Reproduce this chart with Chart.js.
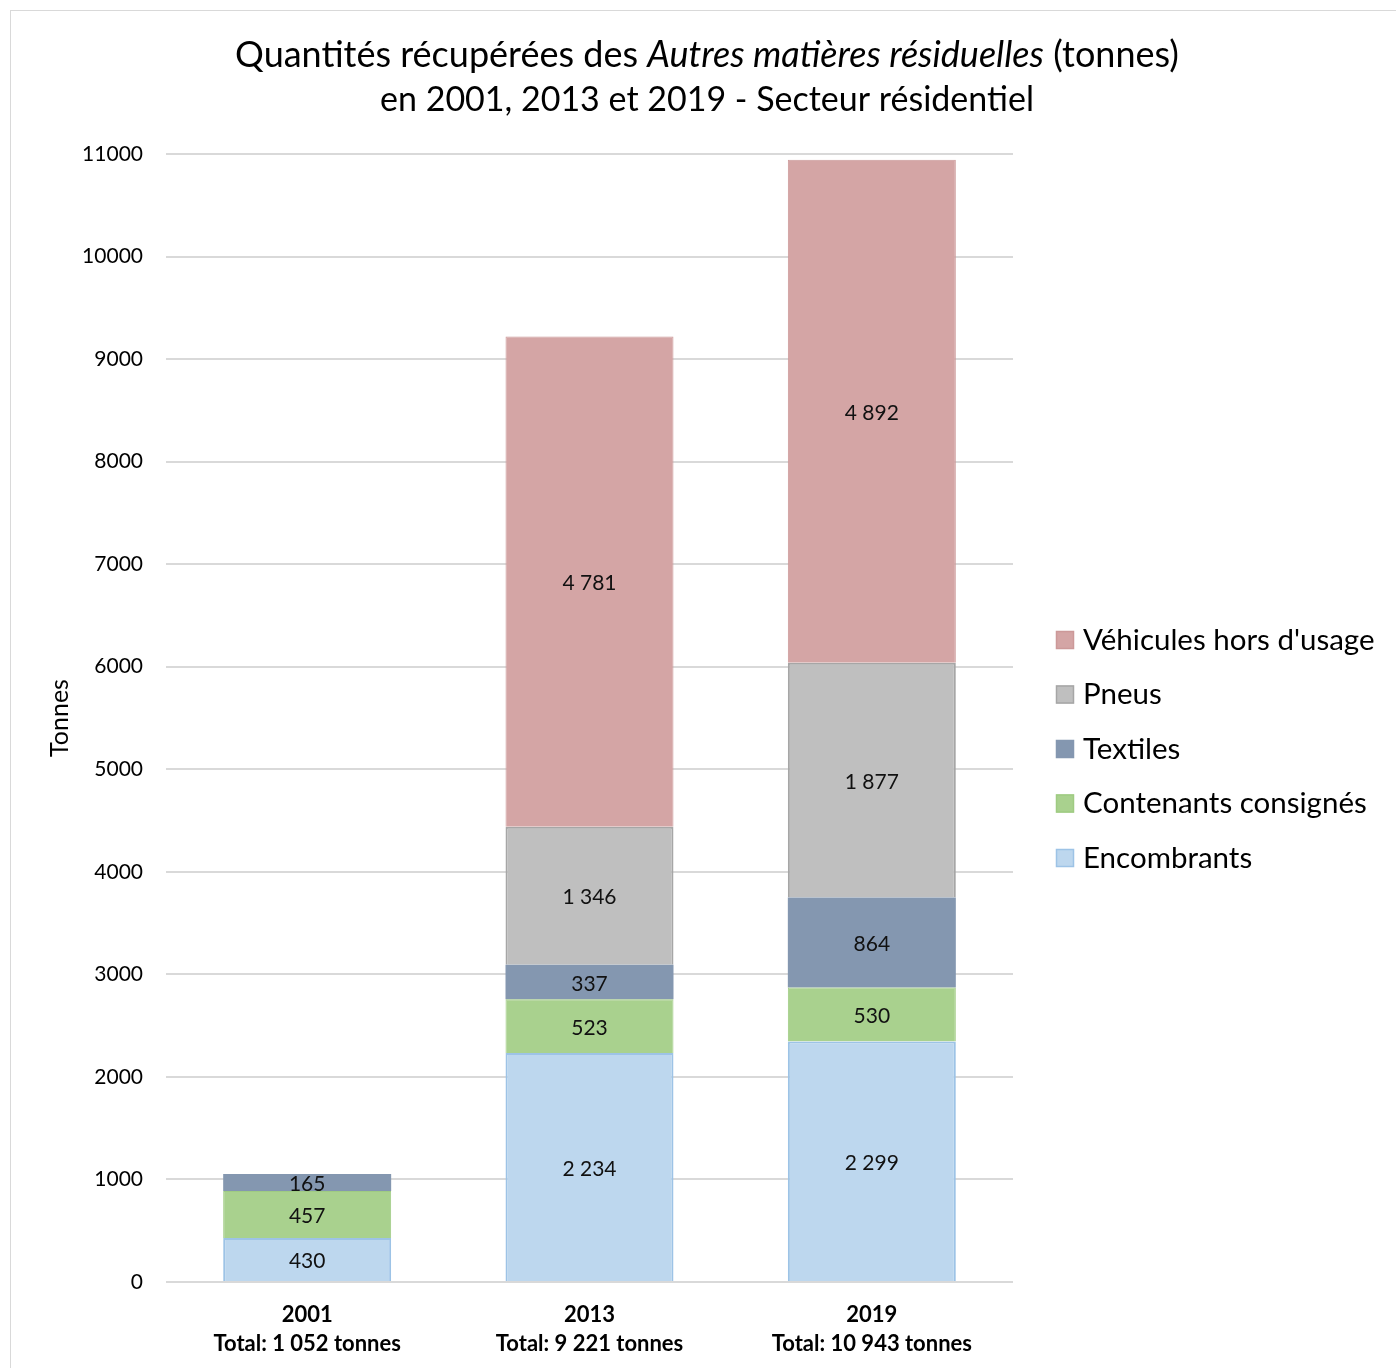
<!DOCTYPE html>
<html lang="fr">
<head>
<meta charset="utf-8">
<title>Autres matières résiduelles</title>
<script src="https://cdn.jsdelivr.net/npm/chart.js@4.4.1/dist/chart.umd.min.js"></script>
<style>
    html, body { margin: 0; padding: 0; background: #fff; overflow: hidden; }
    .frame {
        position: absolute;
        left: 10px; top: 10px;
        width: 1420px; height: 1420px;
        border: 1px solid #d9d9d9;
    }
    #chart { position: absolute; left: 0; top: 0; }
</style>
</head>
<body>
<div class="frame"></div>
<canvas id="chart" width="1396" height="1368"></canvas>
<script>
// --- data ---
const years        = ['2001', '2013', '2019'];
const totalLabels  = ['Total: 1 052 tonnes', 'Total: 9 221 tonnes', 'Total: 10 943 tonnes'];

const encombrants  = [430, 2234, 2345];
const contenants   = [457, 523, 528];
const textiles     = [165, 337, 877];
const pneus        = [null, 1346, 2290];
const vehicules    = [null, 4781, 4903];

// text printed inside the segments, as written on the original
const encLabels    = ['430', '2 234', '2 299'];
const contLabels   = ['457', '523', '530'];
const textLabels   = ['165', '337', '864'];
const pneuLabels   = [null, '1 346', '1 877'];
const vehLabels    = [null, '4 781', '4 892'];

const yTicks = { min: 0, max: 11000, step: 1000 };

const FONT = 'Lato, "Open Sans", sans-serif';

const datasets = [
    { label: 'Encombrants',            data: encombrants, texts: encLabels,  backgroundColor: '#bdd7ee', borderColor: '#9dc3e6', borderWidth: 2 },
    { label: 'Contenants consignés',   data: contenants,  texts: contLabels, backgroundColor: '#a9d18e', borderColor: '#9fcb82', borderWidth: 1 },
    { label: 'Textiles',               data: textiles,    texts: textLabels, backgroundColor: '#8497b0', borderColor: '#8497b0', borderWidth: 0 },
    { label: 'Pneus',                  data: pneus,       texts: pneuLabels, backgroundColor: '#bfbfbf', borderColor: '#a6a6a6', borderWidth: 2 },
    { label: "Véhicules hors d'usage", data: vehicules,   texts: vehLabels,  backgroundColor: '#d4a5a5', borderColor: '#cc9999', borderWidth: 1 },
];

// Title with an italic part in the middle
const titlePlugin = {
    id: 'mixedTitle',
    afterDraw(chart) {
        const ctx = chart.ctx;
        const cx = 707;
        const size = 36;
        const line1 = [
            { t: 'Quantités récupérées des ', it: false },
            { t: 'Autres matières résiduelles', it: true },
            { t: ' (tonnes)', it: false },
        ];
        ctx.save();
        ctx.fillStyle = '#000';
        ctx.textBaseline = 'middle';
        ctx.textAlign = 'left';
        let total = 0;
        line1.forEach(p => {
            ctx.font = (p.it ? 'italic ' : '') + size + 'px ' + FONT;
            p.w = ctx.measureText(p.t).width;
            total += p.w;
        });
        let x = cx - total / 2;
        line1.forEach(p => {
            ctx.font = (p.it ? 'italic ' : '') + size + 'px ' + FONT;
            ctx.fillText(p.t, x, 55);
            x += p.w;
        });
        ctx.font = '34px ' + FONT;
        ctx.textAlign = 'center';
        ctx.fillText('en 2001, 2013 et 2019 - Secteur résidentiel', cx, 100);
        ctx.restore();
    }
};

// Values in the middle of every segment
const segmentLabels = {
    id: 'segmentLabels',
    afterDatasetsDraw(chart) {
        const ctx = chart.ctx;
        ctx.save();
        ctx.font = '21px ' + FONT;
        ctx.fillStyle = '#111';
        ctx.textAlign = 'center';
        ctx.textBaseline = 'middle';
        chart.data.datasets.forEach((ds, i) => {
            chart.getDatasetMeta(i).data.forEach((bar, j) => {
                if (ds.data[j] == null) return;
                const { x, y, base } = bar.getProps(['x', 'y', 'base'], true);
                ctx.fillText(ds.texts[j], x, (y + base) / 2 + 2);
            });
        });
        ctx.restore();
    }
};

// Legend on the right, last series on top
const sideLegend = {
    id: 'sideLegend',
    afterDraw(chart) {
        const ctx = chart.ctx;
        const items = chart.data.datasets.slice().reverse();
        ctx.save();
        ctx.font = '29.5px ' + FONT;
        ctx.textBaseline = 'middle';
        ctx.textAlign = 'left';
        items.forEach((ds, k) => {
            const cy = 640 + k * 54.5;
            ctx.fillStyle = ds.backgroundColor;
            ctx.fillRect(1056, cy - 9, 18, 18);
            ctx.strokeStyle = ds.borderColor;
            ctx.lineWidth = 1.5;
            ctx.strokeRect(1056.5, cy - 8.5, 17, 17);
            ctx.fillStyle = '#000';
            ctx.fillText(ds.label, 1083, cy);
        });
        ctx.restore();
    }
};

const canvas = document.getElementById('chart');

new Chart(canvas, {
    type: 'bar',
    data: {
        labels: years.map((y, i) => [y, totalLabels[i]]),
        datasets: datasets
    },
    options: {
        responsive: false,
        animation: false,
        layout: { padding: { top: 154, right: 383, bottom: 0, left: 0 } },
        datasets: {
            bar: { categoryPercentage: 1, barPercentage: 0.595 }
        },
        plugins: {
            legend: { display: false },
            title: { display: false },
            tooltip: { enabled: false }
        },
        scales: {
            x: {
                stacked: true,
                grid: { display: false },
                border: { display: false },
                ticks: {
                    color: '#000',
                    padding: 10,
                    font: { family: FONT, size: 22, weight: 'bold', lineHeight: 1.32 }
                },
                afterFit(scale) { scale.height = 1368 - 1282; }
            },
            y: {
                stacked: true,
                min: yTicks.min,
                max: yTicks.max,
                grid: { color: '#d9d9d9', lineWidth: 2, drawTicks: false },
                border: { display: false },
                ticks: {
                    stepSize: yTicks.step,
                    color: '#000',
                    padding: 23,
                    font: { family: FONT, size: 21 },
                    callback: v => v
                },
                title: {
                    display: true,
                    text: 'Tonnes',
                    color: '#000',
                    font: { family: FONT, size: 25 },
                    padding: { top: 45, bottom: 0 }
                },
                afterFit(scale) { scale.width = 166; }
            }
        }
    },
    plugins: [titlePlugin, segmentLabels, sideLegend]
});
</script>
</body>
</html>
